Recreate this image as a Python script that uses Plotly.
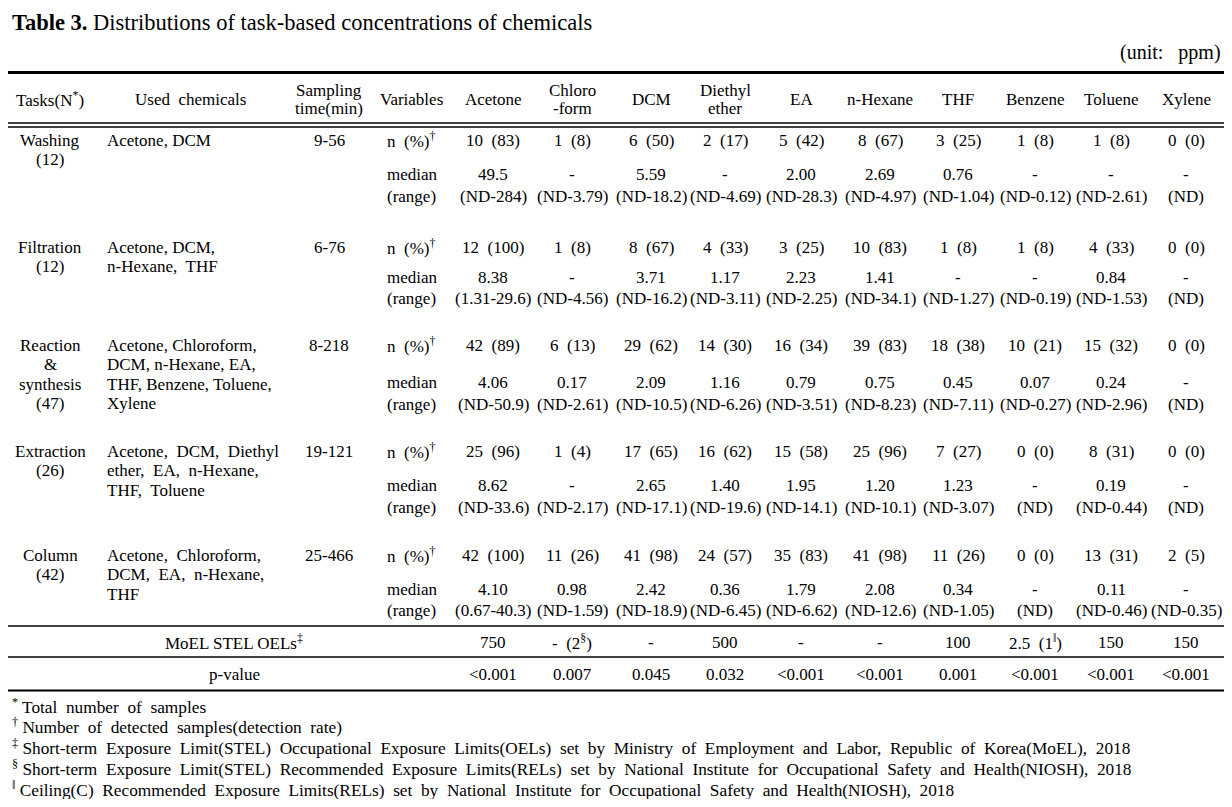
import plotly.graph_objects as go

# ---------------- data ----------------
title_bold = "Table 3."
title_rest = " Distributions of task-based concentrations of chemicals"
unit_note = "(unit:\u00a0\u00a0 ppm)"

chemicals = ["Acetone", "Chloro<br>-form", "DCM", "Diethyl<br>ether", "EA",
             "n-Hexane", "THF", "Benzene", "Toluene", "Xylene"]

tasks = ["Washing<br>(12)", "Filtration<br>(12)", "Reaction<br>&<br>synthesis<br>(47)",
         "Extraction<br>(26)", "Column<br>(42)"]

used_chemicals = [
    ["Acetone, DCM"],
    ["Acetone, DCM,", "n-Hexane,\u00a0 THF"],
    ["Acetone, Chloroform,", "DCM, n-Hexane, EA,", "THF, Benzene, Toluene,", "Xylene"],
    ["Acetone,\u00a0 DCM,\u00a0 Diethyl", "ether,\u00a0 EA,\u00a0 n-Hexane,", "THF,\u00a0 Toluene"],
    ["Acetone,\u00a0 Chloroform,", "DCM,\u00a0 EA,\u00a0 n-Hexane,", "THF"],
]

sampling_time = ["9-56", "6-76", "8-218", "19-121", "25-466"]

n_detected = [
    ["10 (83)", "1 (8)", "6 (50)", "2 (17)", "5 (42)", "8 (67)", "3 (25)", "1 (8)", "1 (8)", "0 (0)"],
    ["12 (100)", "1 (8)", "8 (67)", "4 (33)", "3 (25)", "10 (83)", "1 (8)", "1 (8)", "4 (33)", "0 (0)"],
    ["42 (89)", "6 (13)", "29 (62)", "14 (30)", "16 (34)", "39 (83)", "18 (38)", "10 (21)", "15 (32)", "0 (0)"],
    ["25 (96)", "1 (4)", "17 (65)", "16 (62)", "15 (58)", "25 (96)", "7 (27)", "0 (0)", "8 (31)", "0 (0)"],
    ["42 (100)", "11 (26)", "41 (98)", "24 (57)", "35 (83)", "41 (98)", "11 (26)", "0 (0)", "13 (31)", "2 (5)"],
]

medians = [
    ["49.5", "-", "5.59", "-", "2.00", "2.69", "0.76", "-", "-", "-"],
    ["8.38", "-", "3.71", "1.17", "2.23", "1.41", "-", "-", "0.84", "-"],
    ["4.06", "0.17", "2.09", "1.16", "0.79", "0.75", "0.45", "0.07", "0.24", "-"],
    ["8.62", "-", "2.65", "1.40", "1.95", "1.20", "1.23", "-", "0.19", "-"],
    ["4.10", "0.98", "2.42", "0.36", "1.79", "2.08", "0.34", "-", "0.11", "-"],
]

ranges = [
    ["(ND-284)", "(ND-3.79)", "(ND-18.2)", "(ND-4.69)", "(ND-28.3)", "(ND-4.97)", "(ND-1.04)", "(ND-0.12)", "(ND-2.61)", "(ND)"],
    ["(1.31-29.6)", "(ND-4.56)", "(ND-16.2)", "(ND-3.11)", "(ND-2.25)", "(ND-34.1)", "(ND-1.27)", "(ND-0.19)", "(ND-1.53)", "(ND)"],
    ["(ND-50.9)", "(ND-2.61)", "(ND-10.5)", "(ND-6.26)", "(ND-3.51)", "(ND-8.23)", "(ND-7.11)", "(ND-0.27)", "(ND-2.96)", "(ND)"],
    ["(ND-33.6)", "(ND-2.17)", "(ND-17.1)", "(ND-19.6)", "(ND-14.1)", "(ND-10.1)", "(ND-3.07)", "(ND)", "(ND-0.44)", "(ND)"],
    ["(0.67-40.3)", "(ND-1.59)", "(ND-18.9)", "(ND-6.45)", "(ND-6.62)", "(ND-12.6)", "(ND-1.05)", "(ND)", "(ND-0.46)", "(ND-0.35)"],
]

moel_label = "MoEL STEL OELs<sup>‡</sup>"
moel_oels = ["750", "- (2<sup>§</sup>)", "-", "500", "-", "-", "100", "2.5 (1<sup>‖</sup>)", "150", "150"]

pvalue_label = "p-value"
p_values = ["<0.001", "0.007", "0.045", "0.032", "<0.001", "<0.001", "0.001", "<0.001", "<0.001", "<0.001"]

footnotes = [
    ("*", "Total number of samples"),
    ("†", "Number of detected samples(detection rate)"),
    ("‡", "Short-term Exposure Limit(STEL) Occupational Exposure Limits(OELs) set by Ministry of Employment and Labor, Republic of Korea(MoEL), 2018"),
    ("§", "Short-term Exposure Limit(STEL) Recommended Exposure Limits(RELs) set by National Institute for Occupational Safety and Health(NIOSH), 2018"),
    ("‖", "Ceiling(C) Recommended Exposure Limits(RELs) set by National Institute for Occupational Safety and Health(NIOSH), 2018"),
]

# ---------------- layout geometry (table grid, page pixels) ----------------
W, H = 1232, 807
PAGE_MARGIN = 8          # default body margin of the html page
FONT = "Liberation Serif, Times New Roman, serif"
FS = 17
FS_FOOT = 17.3
X_LEFT, X_RIGHT = 8, 1224
X_TASK, X_USED_HDR, X_USED, X_SAMP, X_VAR_HDR, X_VAR = 50, 190, 105, 329, 411, 385
X_CHEM = [493, 572, 651, 725, 801, 880, 958, 1035, 1111, 1186]
X_LABEL_SPAN = 234

Y_TITLE, Y_UNIT, Y_HDR, HDR_HALF = 22, 52, 99, 9
GROUP_ROWS = [(140, 174, 196), (247, 277, 298), (345, 382, 404), (451, 485, 507), (555, 589, 610)]
LINE_STEP = 19.5
Y_MOEL, Y_P = 642, 674
Y_FOOT = [706, 726, 747, 768, 789]

fig = go.Figure()
fig.add_trace(go.Scatter(x=[PAGE_MARGIN, W - PAGE_MARGIN], y=[PAGE_MARGIN, H - PAGE_MARGIN], mode="markers",
                         marker=dict(opacity=0), hoverinfo="skip", showlegend=False))

ann = []


def txt(x, y, s, anchor="center", size=FS):
    ann.append(dict(x=x, y=y, xref="x", yref="y", text=s, showarrow=False,
                    xanchor=anchor, yanchor="middle", align="left" if anchor == "left" else anchor,
                    font=dict(family=FONT, size=size, color="black")))


# title
txt(10, Y_TITLE, "<b>" + title_bold + "</b>" + title_rest, anchor="left", size=22.5)
txt(1223, Y_UNIT, unit_note, anchor="right", size=20)

# header
txt(X_TASK, Y_HDR, "Tasks(N<sup>*</sup>)")
txt(X_USED_HDR, Y_HDR, "Used\u00a0 chemicals")
txt(X_SAMP, Y_HDR - HDR_HALF, "Sampling")
txt(X_SAMP, Y_HDR + HDR_HALF, "time(min)")
txt(X_VAR_HDR, Y_HDR, "Variables")
for xc, c in zip(X_CHEM, chemicals):
    parts = c.split("<br>")
    if len(parts) == 1:
        txt(xc, Y_HDR, parts[0])
    else:
        txt(xc, Y_HDR - HDR_HALF, parts[0])
        txt(xc, Y_HDR + HDR_HALF, parts[1])

# body
for g, (yn, ym, yr) in enumerate(GROUP_ROWS):
    for i, line in enumerate(tasks[g].split("<br>")):
        txt(X_TASK, yn + i * LINE_STEP, line)
    for i, line in enumerate(used_chemicals[g]):
        txt(X_USED, yn + i * LINE_STEP, line, anchor="left")
    txt(X_SAMP, yn, sampling_time[g])
    txt(X_VAR, yn, "n\u00a0 (%)<sup>†</sup>", anchor="left")
    txt(X_VAR, ym, "median", anchor="left")
    txt(X_VAR, yr, "(range)", anchor="left")
    for c, xc in enumerate(X_CHEM):
        txt(xc, yn, n_detected[g][c].replace(" ", "\u00a0 "))
        txt(xc, ym, medians[g][c])
        txt(xc, yr, ranges[g][c])

# summary rows
txt(X_LABEL_SPAN, Y_MOEL, moel_label)
txt(X_LABEL_SPAN, Y_P, pvalue_label)
for c, xc in enumerate(X_CHEM):
    txt(xc, Y_MOEL, moel_oels[c].replace(" ", "\u00a0 "))
    txt(xc, Y_P, p_values[c].replace("<", "&lt;"))

# footnotes
for (mark, s), y in zip(footnotes, Y_FOOT):
    txt(10, y, "<sup>" + mark + "</sup> " + s.replace(" ", "\u00a0 "), anchor="left", size=FS_FOOT)

fig.update_layout(annotations=ann)

# rules
shapes = []


def hline(y, w):
    shapes.append(dict(type="line", xref="x", yref="y", x0=X_LEFT, x1=X_RIGHT, y0=y, y1=y,
                       line=dict(color="black", width=w)))


hline(72.5, 3)
hline(123, 1.3)
hline(127, 1.3)
hline(626, 1.3)
hline(657, 1.3)
hline(690.5, 2)
fig.update_layout(shapes=shapes)

# figure occupies the page area inside the default body margin; axes map page pixels
fig.update_xaxes(range=[PAGE_MARGIN, W - PAGE_MARGIN], visible=False, fixedrange=True)
fig.update_yaxes(range=[H - PAGE_MARGIN, PAGE_MARGIN], visible=False, fixedrange=True)
fig.update_layout(width=W - 2 * PAGE_MARGIN, height=H - 2 * PAGE_MARGIN,
                  margin=dict(l=0, r=0, t=0, b=0),
                  paper_bgcolor="white", plot_bgcolor="white", showlegend=False)

fig.write_html("out.html", config={"displayModeBar": False})
